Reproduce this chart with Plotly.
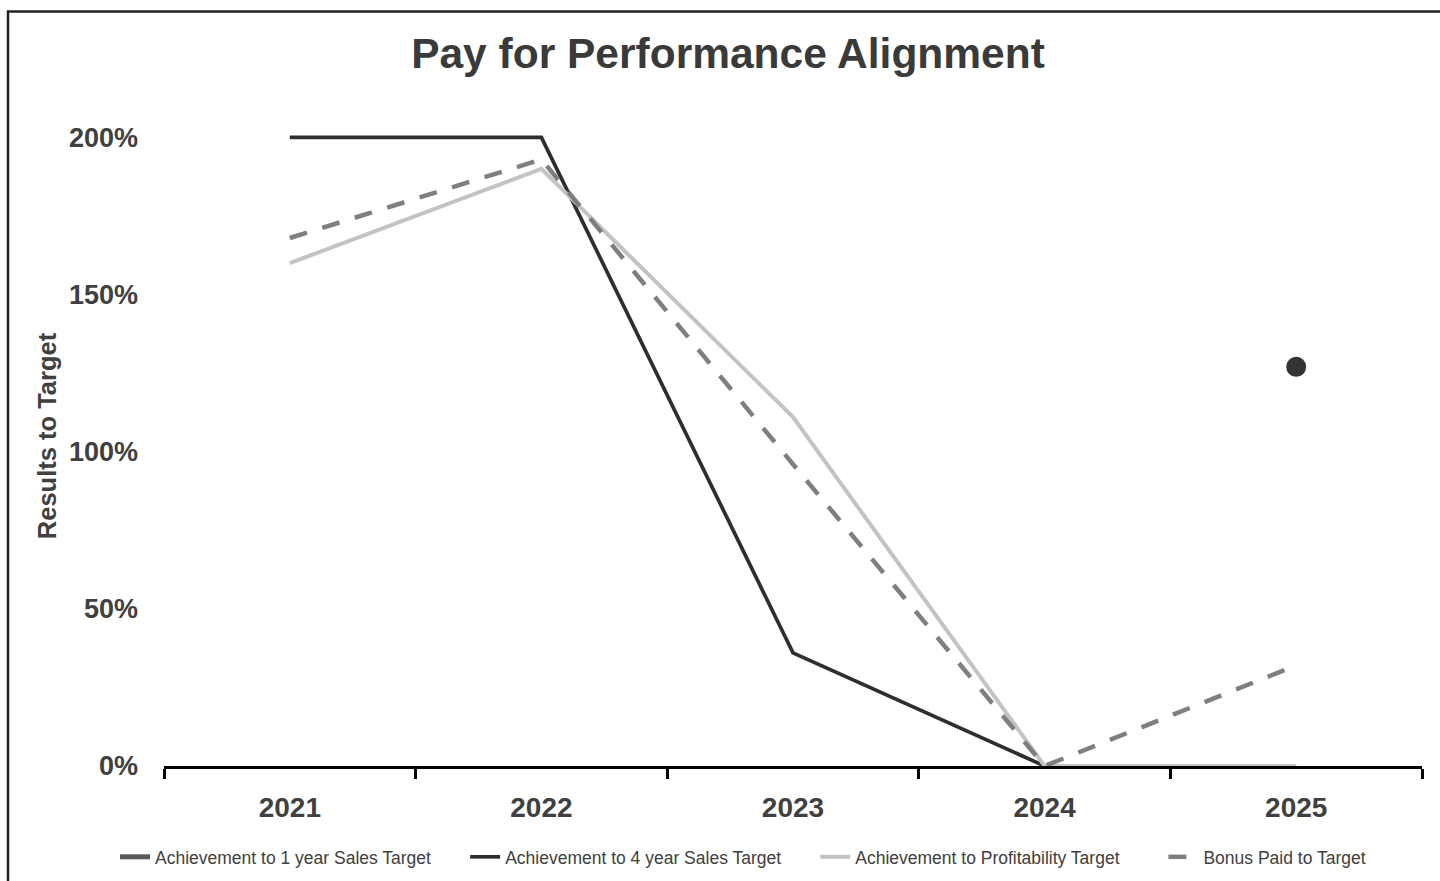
import plotly.graph_objects as go

years = ["2021", "2022", "2023", "2024", "2025"]
one_year_sales = [None, None, None, None, 127]
four_year_sales = [200, 200, 36, 0, None]
profitability = [160, 190, 111, 0, 0]
bonus_paid = [168, 193, 96, 0, 32]
y_ticks = [0, 50, 100, 150, 200]
y_tick_labels = ["0%", "50%", "100%", "150%", "200%"]
series_names = ["Achievement to 1 year Sales Target", "Achievement to 4 year Sales Target",
                "Achievement to Profitability Target", "Bonus Paid to Target"]

W, H = 1440, 881
L, R, T, B = 164, 18, 105.5, 115
plot_w = W - L - R
plot_h = H - T - B
pad = "\u00a0" * 6

fig = go.Figure()
fig.add_trace(go.Scatter(x=years, y=one_year_sales, mode="lines", name=series_names[0] + pad,
                         line=dict(color="#595959", width=5), legendgroup="g1"))
fig.add_trace(go.Scatter(x=years, y=four_year_sales, mode="lines", name=series_names[1] + pad,
                         line=dict(color="#2e2e2e", width=3.7)))
fig.add_trace(go.Scatter(x=years, y=profitability, mode="lines", name=series_names[2] + pad + "\u00a0\u00a0",
                         line=dict(color="#c3c3c3", width=4)))
fig.add_trace(go.Scatter(x=years, y=bonus_paid, mode="lines", name=series_names[3],
                         line=dict(color="#7f7f7f", width=4.5, dash="18px,16px")))
fig.add_trace(go.Scatter(x=years, y=one_year_sales, mode="markers", showlegend=False, legendgroup="g1",
                         marker=dict(color="#333333", size=20), cliponaxis=False))

fig.update_layout(
    width=W, height=H,
    margin=dict(l=L, r=R, t=T, b=B, autoexpand=False),
    paper_bgcolor="white", plot_bgcolor="white",
    title=dict(text="<b>Pay for Performance Alignment</b>", x=(728 - 0) / W, xanchor="center",
               y=1 - 53 / H, yanchor="middle",
               font=dict(family="Arial, Liberation Sans, sans-serif", size=42.5, color="#3a3a3a")),
    font=dict(family="Arial, Liberation Sans, sans-serif", color="#404040"),
    showlegend=True,
    legend=dict(orientation="h", x=(115 - L) / plot_w, xanchor="left",
                y=-(857 - (H - B)) / plot_h, yanchor="middle",
                font=dict(family="Liberation Sans Narrow, Arial Narrow, sans-serif", size=17.5, color="#404040"),
                bgcolor="rgba(0,0,0,0)"),
    xaxis=dict(type="category", range=[-0.5, 4.5], showline=True, linecolor="black", linewidth=3,
               ticks="outside", ticklen=10, tickwidth=3, tickcolor="black", tickson="boundaries",
               showgrid=False, zeroline=False, automargin=False,
               tickfont=dict(size=28, color="#404040", family="Arial, Liberation Sans, sans-serif", weight="bold"),
               ticklabelstandoff=14),
    yaxis=dict(range=[0, 210], tickvals=y_ticks, ticktext=y_tick_labels, showgrid=False, zeroline=False,
               showline=False, ticks="", automargin=False,
               tickfont=dict(size=27, color="#404040", family="Arial, Liberation Sans, sans-serif", weight="bold"),
               ticklabelstandoff=25,
               title=dict(text="<b>Results to Target</b>", standoff=5,
                          font=dict(size=25.5, color="#404040", family="Arial, Liberation Sans, sans-serif"))),
)

# outer border of the chart area
fig.add_shape(type="rect", xref="paper", yref="paper",
              x0=(8 - L) / plot_w, x1=(W + 10 - L) / plot_w,
              y0=-(H + 10 - (H - B)) / plot_h, y1=1 + (T - 11) / plot_h,
              line=dict(color="#222222", width=2.5), layer="below")

fig.write_html("out.html")
